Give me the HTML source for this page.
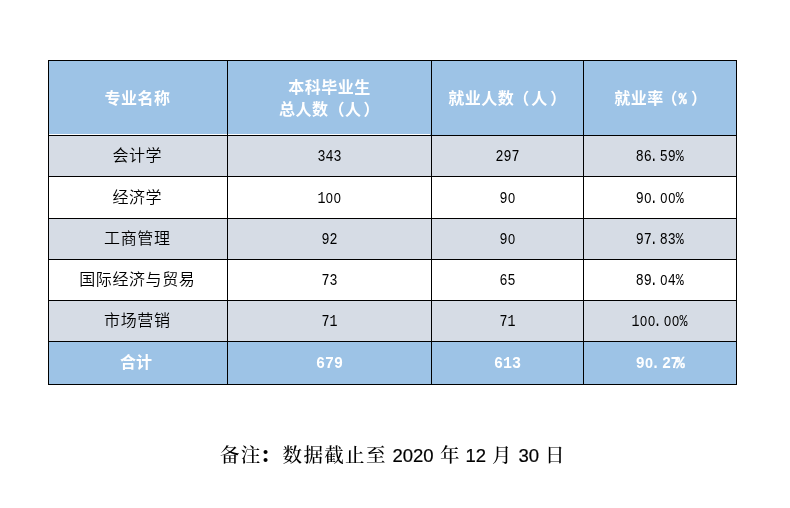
<!DOCTYPE html>
<html lang="zh-CN">
<head>
<meta charset="utf-8">
<title>就业率统计表</title>
<style>
html,body{margin:0;padding:0;background:#fff;}
body{width:790px;height:508px;position:relative;overflow:hidden;
  font-family:"Liberation Serif","Noto Sans CJK SC","WenQuanYi Zen Hei",sans-serif;}
.ln{position:absolute;background:#000;}
.c{position:absolute;display:flex;align-items:center;justify-content:center;text-align:center;
  font-size:16px;line-height:22px;color:#000;white-space:nowrap;}
.b{background:#9dc3e6;}
.g{background:#d6dce5;}
.w{background:#fff;}
.h{color:#fff;font-weight:bold;letter-spacing:.5px;}
.h>span{position:relative;top:1px;}
.z{font-weight:350;letter-spacing:.6px;}
.z>span{position:relative;left:-.7px;}
.t{color:#fff;font-weight:bold;}
.t>span.k{position:relative;left:-2px;}
.m{display:inline-block;position:relative;top:1px;left:-.4px;font-family:"Liberation Mono",monospace;transform:scaleX(.8333);}
.mb{display:inline-block;position:relative;top:1px;font-family:"Liberation Mono",monospace;transform:scaleX(.9375);}
.m s,.mb s{text-decoration:none;display:inline-block;width:9.6px;text-align:center;font-family:"Liberation Sans",sans-serif;font-size:15.4px;line-height:1;}
.m b,.mb b{font-weight:inherit;position:relative;left:-2.4px;}
.mb u{text-decoration:none;margin-left:-3.5px;-webkit-text-stroke:.4px #fff;}
.p{display:inline-block;width:8.4px;letter-spacing:0;}
.p>i{display:inline-block;font-style:normal;font-family:"Liberation Mono",monospace;width:9.6px;margin-left:-.6px;transform:scaleX(.8333);-webkit-text-stroke:.5px #fff;}
.h b{font-weight:inherit;}
.wl{position:absolute;background:#fff;height:1px;top:134px;}
.note{position:absolute;top:438px;height:32px;line-height:32px;white-space:nowrap;color:#000;}
.zh{font-family:"Liberation Serif","Noto Serif CJK SC","Noto Sans CJK SC",serif;font-weight:500;font-size:19.5px;letter-spacing:1.35px;top:440px;}
.zh b{font-weight:900;margin-left:-1.6px;margin-right:1.6px;}
.en{font-family:"Liberation Sans",sans-serif;font-size:18.5px;top:440px;-webkit-text-stroke:.2px #000;}
</style>
</head>
<body>

<!-- header row -->
<div class="c b h" style="left:49px;top:61px;width:178px;height:74px;"><span style="left:-.5px">专业名称</span></div>
<div class="c b h" style="left:228px;top:61px;width:203px;height:74px;"><span>本科毕业生<br>总人数（人<b style="margin-left:2.2px">）</b></span></div>
<div class="c b h" style="left:432px;top:61px;width:151px;height:74px;"><span>就业人数<b style="margin-left:-1.1px">（</b><b style="margin-left:1.5px">人</b><b style="margin-left:2.5px">）</b></span></div>
<div class="c b h" style="left:584px;top:61px;width:152px;height:74px;"><span style="left:.8px">就业率<b style="margin-left:-2.2px">（</b><span class="p" style="margin-left:.5px"><i>%</i></span><b style="margin-left:4px">）</b></span></div>
<div class="wl" style="left:49px;width:178px;"></div>
<div class="wl" style="left:228px;width:202px;"></div>
<!-- row 1 -->
<div class="c g z" style="left:49px;top:136px;width:178px;height:40px;"><span>会计学</span></div>
<div class="c g" style="left:228px;top:136px;width:203px;height:40px;"><span class="m">343</span></div>
<div class="c g" style="left:432px;top:136px;width:151px;height:40px;"><span class="m">297</span></div>
<div class="c g" style="left:584px;top:136px;width:152px;height:40px;"><span class="m">86<b>.</b>59%</span></div>
<!-- row 2 -->
<div class="c w z" style="left:49px;top:177px;width:178px;height:41px;"><span>经济学</span></div>
<div class="c w" style="left:228px;top:177px;width:203px;height:41px;"><span class="m">1<s>0</s><s>0</s></span></div>
<div class="c w" style="left:432px;top:177px;width:151px;height:41px;"><span class="m">9<s>0</s></span></div>
<div class="c w" style="left:584px;top:177px;width:152px;height:41px;"><span class="m">9<s>0</s><b>.</b><s>0</s><s>0</s>%</span></div>
<!-- row 3 -->
<div class="c g z" style="left:49px;top:219px;width:178px;height:40px;"><span>工商管理</span></div>
<div class="c g" style="left:228px;top:219px;width:203px;height:40px;"><span class="m">92</span></div>
<div class="c g" style="left:432px;top:219px;width:151px;height:40px;"><span class="m">9<s>0</s></span></div>
<div class="c g" style="left:584px;top:219px;width:152px;height:40px;"><span class="m">97<b>.</b>83%</span></div>
<!-- row 4 -->
<div class="c w z" style="left:49px;top:260px;width:178px;height:40px;"><span>国际经济与贸易</span></div>
<div class="c w" style="left:228px;top:260px;width:203px;height:40px;"><span class="m">73</span></div>
<div class="c w" style="left:432px;top:260px;width:151px;height:40px;"><span class="m">65</span></div>
<div class="c w" style="left:584px;top:260px;width:152px;height:40px;"><span class="m">89<b>.</b><s>0</s>4%</span></div>
<!-- row 5 -->
<div class="c g z" style="left:49px;top:301px;width:178px;height:40px;"><span>市场营销</span></div>
<div class="c g" style="left:228px;top:301px;width:203px;height:40px;"><span class="m">71</span></div>
<div class="c g" style="left:432px;top:301px;width:151px;height:40px;"><span class="m">71</span></div>
<div class="c g" style="left:584px;top:301px;width:152px;height:40px;"><span class="m">1<s>0</s><s>0</s><b>.</b><s>0</s><s>0</s>%</span></div>
<!-- total row -->
<div class="c b t" style="left:49px;top:342px;width:178px;height:42px;"><span class="k">合计</span></div>
<div class="c b t" style="left:228px;top:342px;width:203px;height:42px;"><span class="mb">679</span></div>
<div class="c b t" style="left:432px;top:342px;width:151px;height:42px;"><span class="mb">613</span></div>
<div class="c b t" style="left:584px;top:342px;width:152px;height:42px;"><span class="mb" style="letter-spacing:-.4px">9<s>0</s><b>.</b>27<u>%</u></span></div>
<!-- grid lines -->
<div class="ln" style="left:48px;top:60px;width:689px;height:1px;"></div>
<div class="ln" style="left:48px;top:135px;width:689px;height:1px;"></div>
<div class="ln" style="left:48px;top:176px;width:689px;height:1px;"></div>
<div class="ln" style="left:48px;top:218px;width:689px;height:1px;"></div>
<div class="ln" style="left:48px;top:259px;width:689px;height:1px;"></div>
<div class="ln" style="left:48px;top:300px;width:689px;height:1px;"></div>
<div class="ln" style="left:48px;top:341px;width:689px;height:1px;"></div>
<div class="ln" style="left:48px;top:384px;width:689px;height:1px;"></div>
<div class="ln" style="left:48px;top:60px;width:1px;height:325px;"></div>
<div class="ln" style="left:227px;top:60px;width:1px;height:325px;"></div>
<div class="ln" style="left:431px;top:60px;width:1px;height:325px;"></div>
<div class="ln" style="left:583px;top:60px;width:1px;height:325px;"></div>
<div class="ln" style="left:736px;top:60px;width:1px;height:325px;"></div>
<!-- note -->
<div class="note zh" style="left:220px;">备注<b>：</b>数据截止至</div>
<div class="note en" style="left:392.5px;">2020</div>
<div class="note zh" style="left:440px;">年</div>
<div class="note en" style="left:465.5px;">12</div>
<div class="note zh" style="left:492px;">月</div>
<div class="note en" style="left:518.5px;">30</div>
<div class="note zh" style="left:545px;">日</div>
</body>
</html>
